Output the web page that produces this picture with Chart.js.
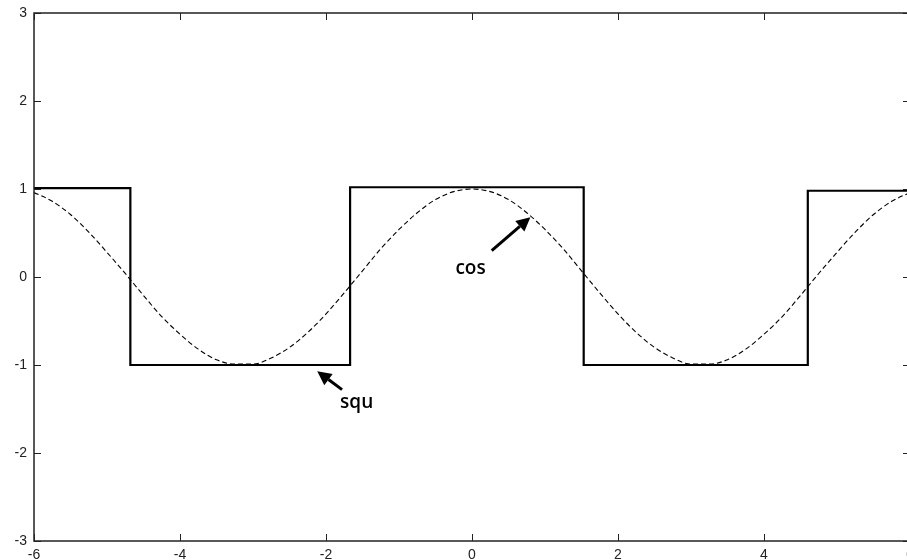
<!DOCTYPE html>
<html lang="en">
<head>
    <meta charset="utf-8" />
    <meta name="viewport" content="width=device-width" />
    <script src="https://cdn.jsdelivr.net/npm/chart.js@4/dist/chart.umd.min.js"></script>
    <style>
        html, body { margin: 0; padding: 0; background: #fff; overflow: hidden; }
        #box { width: 914px; height: 560px; }
    </style>
    <script>
        // square wave vertices (x, y)
        var squX = [-6, -4.68, -4.68, -1.67, -1.67, 1.53, 1.53, 4.60, 4.60, 6];
        var squY = [1.01, 1.01, -1, -1, 1.02, 1.02, -1, -1, 0.98, 0.98];

        // dashed cos curve
        var cosX = [-6, -5.75, -5.5, -5.25, -5, -4.75, -4.5, -4.25, -4, -3.75, -3.5, -3.25, -3,
                    -2.75, -2.5, -2.25, -2, -1.75, -1.5, -1.25, -1, -0.75, -0.5, -0.25, 0,
                    0.25, 0.5, 0.75, 1, 1.25, 1.5, 1.75, 2, 2.25, 2.5, 2.75, 3,
                    3.25, 3.5, 3.75, 4, 4.25, 4.5, 4.75, 5, 5.25, 5.5, 5.75, 6];
        var cosY = [0.96, 0.86, 0.71, 0.51, 0.28, 0.04, -0.21, -0.45, -0.65, -0.82, -0.94, -0.99, -0.99,
                    -0.92, -0.80, -0.63, -0.42, -0.18, 0.07, 0.32, 0.54, 0.73, 0.88, 0.97, 1.00,
                    0.97, 0.88, 0.73, 0.54, 0.32, 0.07, -0.18, -0.42, -0.63, -0.80, -0.92, -0.99,
                    -0.99, -0.94, -0.82, -0.65, -0.45, -0.21, 0.04, 0.28, 0.51, 0.71, 0.86, 0.96];

        var xTicks = [-6, -4, -2, 0, 2, 4, 6];
        var yTicks = [-3, -2, -1, 0, 1, 2, 3];

        // text labels with arrows (data coordinates)
        var notes = [
            { text: 'cos', tx: -0.02, ty: 0.09, fromX: 0.27, fromY: 0.30, toX: 0.80, toY: 0.68 },
            { text: 'squ', tx: -1.58, ty: -1.43, fromX: -1.78, fromY: -1.28, toX: -2.12, toY: -1.07 }
        ];
    </script>
</head>
<body>
    <div id="box"><canvas id="myChart"></canvas></div>

    <script>
        function pts(xs, ys) {
            return xs.map(function (x, i) { return { x: x, y: ys[i] }; });
        }

        // frame with inward ticks, plus the arrow notes
        const framePlugin = {
            id: 'frame',
            afterDraw: function (chart) {
                const c = chart.ctx, a = chart.chartArea;
                const sx = chart.scales.x, sy = chart.scales.y;
                c.save();
                c.strokeStyle = '#222';
                c.lineWidth = 1.5;
                c.strokeRect(a.left, a.top, a.right - a.left, a.bottom - a.top);
                c.lineWidth = 1;
                c.beginPath();
                xTicks.forEach(function (v) {
                    const p = Math.round(sx.getPixelForValue(v)) + 0.5;
                    c.moveTo(p, a.bottom); c.lineTo(p, a.bottom - 7);
                    c.moveTo(p, a.top); c.lineTo(p, a.top + 7);
                });
                yTicks.forEach(function (v) {
                    const p = Math.round(sy.getPixelForValue(v)) + 0.5;
                    c.moveTo(a.left, p); c.lineTo(a.left + 7, p);
                    c.moveTo(a.right, p); c.lineTo(a.right - 7, p);
                });
                c.stroke();

                c.fillStyle = '#000';
                c.strokeStyle = '#000';
                c.font = '600 19px "Open Sans"';
                c.textAlign = 'center';
                c.textBaseline = 'middle';
                notes.forEach(function (n) {
                    c.fillText(n.text, sx.getPixelForValue(n.tx), sy.getPixelForValue(n.ty));
                    const x0 = sx.getPixelForValue(n.fromX), y0 = sy.getPixelForValue(n.fromY);
                    const x1 = sx.getPixelForValue(n.toX), y1 = sy.getPixelForValue(n.toY);
                    const ang = Math.atan2(y1 - y0, x1 - x0);
                    const hl = 14, hw = 7;
                    const bx = x1 - hl * Math.cos(ang), by = y1 - hl * Math.sin(ang);
                    c.lineWidth = 3;
                    c.beginPath();
                    c.moveTo(x0, y0); c.lineTo(bx, by);
                    c.stroke();
                    c.beginPath();
                    c.moveTo(x1, y1);
                    c.lineTo(bx + hw * Math.sin(ang), by - hw * Math.cos(ang));
                    c.lineTo(bx - hw * Math.sin(ang), by + hw * Math.cos(ang));
                    c.closePath();
                    c.fill();
                });
                c.restore();
            }
        };

        const ctx = document.getElementById('myChart');
        const myChart = new Chart(ctx, {
            type: 'line',
            data: {
                datasets: [{
                    label: 'squ',
                    data: pts(squX, squY),
                    borderColor: '#000',
                    borderWidth: 2.2,
                    pointRadius: 0,
                    tension: 0
                }, {
                    label: 'cos',
                    data: pts(cosX, cosY),
                    borderColor: '#000',
                    borderWidth: 1.1,
                    borderDash: [5, 3],
                    pointRadius: 0,
                    cubicInterpolationMode: 'monotone'
                }]
            },
            options: {
                responsive: true,
                maintainAspectRatio: false,
                animation: false,
                layout: { padding: { top: 13, right: 4, left: 0, bottom: 0 } },
                plugins: { legend: { display: false }, tooltip: { enabled: false } },
                scales: {
                    x: {
                        type: 'linear', min: -6, max: 6,
                        afterBuildTicks: function (s) { s.ticks = xTicks.map(function (v) { return { value: v }; }); },
                        afterFit: function (s) { s.height = 19; s.paddingLeft = 0; s.paddingRight = 0; },
                        grid: { display: false, drawTicks: false },
                        border: { display: false },
                        ticks: { color: '#222', padding: 6, maxRotation: 0, autoSkip: false,
                                 font: { family: 'Liberation Sans', size: 14 } }
                    },
                    y: {
                        min: -3, max: 3,
                        afterBuildTicks: function (s) { s.ticks = yTicks.map(function (v) { return { value: v }; }); },
                        afterFit: function (s) { s.width = 34; s.paddingTop = 0; s.paddingBottom = 0; },
                        grid: { display: false, drawTicks: false },
                        border: { display: false },
                        ticks: { color: '#222', padding: 7,
                                 font: { family: 'Liberation Sans', size: 14 } }
                    }
                }
            },
            plugins: [framePlugin]
        });
    </script>
</body>
</html>
